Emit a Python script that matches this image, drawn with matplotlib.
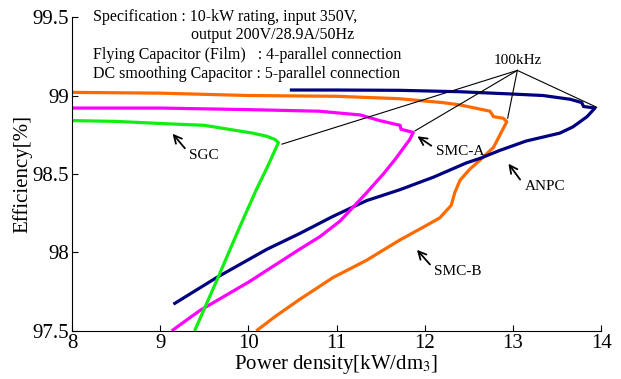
import matplotlib
matplotlib.use("Agg")
import matplotlib.pyplot as plt

plt.rcParams['font.family'] = ['Liberation Serif', 'DejaVu Serif']
plt.rcParams['mathtext.fontset'] = 'stix'

# traced curves (power density kW/dm3, efficiency %)
smcb_x = [8.0, 9.0, 10.0, 11.0, 11.7, 12.2, 12.4, 12.74, 12.78, 12.89, 12.93, 12.78, 12.63, 12.51, 12.40,
          12.34, 12.30, 12.17, 11.98, 11.72, 11.34, 10.96, 10.58, 10.3, 10.09]
smcb_y = [99.02, 99.015, 99.0, 98.995, 98.98, 98.955, 98.94, 98.90, 98.865, 98.855, 98.833, 98.67, 98.59, 98.53, 98.46,
          98.38, 98.30, 98.22, 98.16, 98.08, 97.95, 97.84, 97.70, 97.59, 97.50]

anpc_x = [10.47, 11.0, 11.72, 12.40, 12.97, 13.34, 13.65, 13.78, 13.80, 13.93, 13.84, 13.68, 13.53, 13.15,
          12.85, 12.63, 12.47, 12.10, 11.72, 11.34, 10.96, 10.58, 10.21, 9.64, 9.15]
anpc_y = [99.035, 99.035, 99.033, 99.024, 99.01, 99.0, 98.976, 98.955, 98.93, 98.92, 98.865, 98.80, 98.76, 98.71,
          98.65, 98.60, 98.57, 98.48, 98.40, 98.33, 98.23, 98.12, 98.02, 97.84, 97.67]

smca_x = [8.0, 9.0, 10.0, 10.8, 11.27, 11.49, 11.72, 11.73, 11.87, 11.83, 11.66, 11.53, 11.34, 11.19, 11.04,
          10.81, 10.58, 10.0, 9.45, 9.13]
smca_y = [98.92, 98.92, 98.91, 98.90, 98.876, 98.84, 98.81, 98.785, 98.765, 98.72, 98.59, 98.50, 98.38, 98.29, 98.20,
          98.10, 98.02, 97.81, 97.63, 97.50]

sgc_x = [8.0, 8.5, 9.07, 9.5, 9.83, 10.05, 10.21, 10.30, 10.34, 10.22, 10.09, 9.9, 9.64, 9.39]
sgc_y = [98.84, 98.835, 98.82, 98.81, 98.78, 98.76, 98.74, 98.72, 98.70, 98.55, 98.40, 98.16, 97.82, 97.50]

series = [
    (smcb_x, smcb_y, '#ff6a00'),
    (anpc_x, anpc_y, '#000080'),
    (smca_x, smca_y, '#ff00ff'),
    (sgc_x, sgc_y, '#11ee11'),
]

# 100kHz points and labels
khz_points = [(10.38, 98.69), (11.89, 98.775), (12.94, 98.855), (13.95, 98.925)]
labels = [
    ("SGC", (9.12, 98.77), (9.30, 98.65)),
    ("SMC-A", (11.89, 98.75), (12.10, 98.67)),
    ("ANPC", (12.93, 98.58), (13.10, 98.45)),
    ("SMC-B", (11.89, 98.03), (12.08, 97.91)),
]
spec_lines = [
    "Specification : 10-kW rating, input 350V,",
    "output 200V/28.9A/50Hz",
    "Flying Capacitor (Film)   : 4-parallel connection",
    "DC smoothing Capacitor : 5-parallel connection",
]

fig = plt.figure(figsize=(6.21, 3.79), dpi=100)
ax = fig.add_axes([0.116, 0.127, 0.852, 0.828])

for xs, ys, c in series:
    ax.plot(xs, ys, color=c, lw=2.3, solid_capstyle='butt', solid_joinstyle='round')

hub = (13.05, 99.16)
for px, py in khz_points:
    ax.plot([hub[0], px], [hub[1], py], color='k', lw=0.8)
ax.text(hub[0], hub[1] + 0.02, "100kHz", ha='center', va='bottom', fontsize=11)

for name, head, tail in labels:
    ax.annotate("", xy=head, xytext=tail,
                arrowprops=dict(arrowstyle='->', lw=1.3, color='k', mutation_scale=14))
    ax.text(tail[0] + 0.03, tail[1] - 0.03, name, ha='left', va='center', fontsize=11)

ax.text(8.24, 99.5, spec_lines[0], ha='left', va='center', fontsize=11.5)
ax.text(9.35, 99.385, spec_lines[1], ha='left', va='center', fontsize=11.5)
ax.text(8.24, 99.26, spec_lines[2], ha='left', va='center', fontsize=11.5)
ax.text(8.24, 99.14, spec_lines[3], ha='left', va='center', fontsize=11.5)

ax.set_xlim(8, 14)
ax.set_ylim(97.5, 99.5)
ax.set_xticks([8, 9, 10, 11, 12, 13, 14])
ax.set_yticks([97.5, 98, 98.5, 99, 99.5])
ax.set_yticklabels(["97.5", "98", "98.5", "99", "99.5"])
ax.tick_params(direction='in', length=4, labelsize=15, pad=2)
ax.spines['top'].set_visible(False)
ax.spines['right'].set_visible(False)
ax.set_xlabel("Power density[kW/dm$_3$]", fontsize=15, labelpad=0)
ax.set_ylabel("Efficiency[%]", fontsize=15, labelpad=0)

fig.savefig("out.png", dpi=100)
